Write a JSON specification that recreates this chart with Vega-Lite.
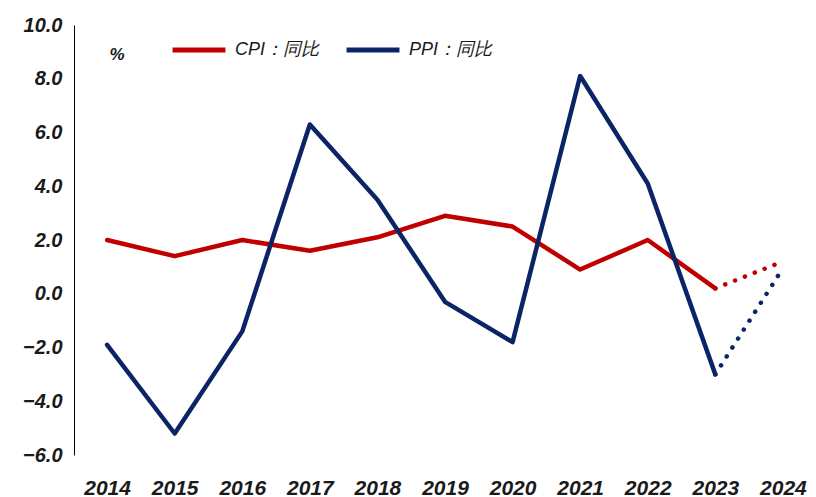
{
  "$schema": "https://vega.github.io/schema/vega-lite/v6.json",
  "width": 742,
  "height": 430,
  "autosize": {"type": "none"},
  "padding": {"left": 74, "top": 25, "right": 0, "bottom": 42},
  "background": "white",
  "config": {
    "view": {"stroke": null},
    "font": "Liberation Sans"
  },
  "datasets": {
    "actual": [
      {"year": "2014", "series": "CPI：同比", "value": 2.0},
      {"year": "2015", "series": "CPI：同比", "value": 1.4},
      {"year": "2016", "series": "CPI：同比", "value": 2.0},
      {"year": "2017", "series": "CPI：同比", "value": 1.6},
      {"year": "2018", "series": "CPI：同比", "value": 2.1},
      {"year": "2019", "series": "CPI：同比", "value": 2.9},
      {"year": "2020", "series": "CPI：同比", "value": 2.5},
      {"year": "2021", "series": "CPI：同比", "value": 0.9},
      {"year": "2022", "series": "CPI：同比", "value": 2.0},
      {"year": "2023", "series": "CPI：同比", "value": 0.2},
      {"year": "2014", "series": "PPI：同比", "value": -1.9},
      {"year": "2015", "series": "PPI：同比", "value": -5.2},
      {"year": "2016", "series": "PPI：同比", "value": -1.4},
      {"year": "2017", "series": "PPI：同比", "value": 6.3},
      {"year": "2018", "series": "PPI：同比", "value": 3.5},
      {"year": "2019", "series": "PPI：同比", "value": -0.3},
      {"year": "2020", "series": "PPI：同比", "value": -1.8},
      {"year": "2021", "series": "PPI：同比", "value": 8.1},
      {"year": "2022", "series": "PPI：同比", "value": 4.1},
      {"year": "2023", "series": "PPI：同比", "value": -3.0}
    ],
    "forecast": [
      {"year": "2023", "series": "CPI：同比", "value": 0.2},
      {"year": "2024", "series": "CPI：同比", "value": 1.2},
      {"year": "2023", "series": "PPI：同比", "value": -3.0},
      {"year": "2024", "series": "PPI：同比", "value": 0.95}
    ],
    "unit": [
      {"year": "2014", "value": 8.9, "label": "%"}
    ]
  },
  "encoding": {
    "x": {
      "field": "year",
      "type": "ordinal",
      "scale": {"type": "point", "padding": 0.49, "domain": ["2014","2015","2016","2017","2018","2019","2020","2021","2022","2023","2024"]},
      "axis": {
        "title": null,
        "domain": false,
        "ticks": false,
        "labelAngle": 0,
        "labelPadding": 22,
        "labelFont": "Liberation Sans",
        "labelFontSize": 21,
        "labelFontWeight": "bold",
        "labelFontStyle": "italic",
        "labelColor": "#1a1a1a"
      }
    },
    "y": {
      "field": "value",
      "type": "quantitative",
      "scale": {"domain": [-6, 10], "nice": false, "zero": false},
      "axis": {
        "title": null,
        "values": [-6, -4, -2, 0, 2, 4, 6, 8, 10],
        "format": ".1f",
        "grid": false,
        "ticks": false,
        "domain": true,
        "domainColor": "#000000",
        "domainWidth": 1,
        "labelPadding": 12,
        "labelFont": "Liberation Sans",
        "labelFontSize": 20,
        "labelFontWeight": "bold",
        "labelFontStyle": "italic",
        "labelColor": "#1a1a1a"
      }
    }
  },
  "layer": [
    {
      "data": {"values": [{"v": 0}]},
      "mark": {"type": "rule", "color": "#000000", "strokeWidth": 1},
      "encoding": {"y": {"datum": 0}, "x": null}
    },
    {
      "data": {"name": "unit"},
      "mark": {"type": "text", "font": "Liberation Sans", "fontSize": 17, "fontWeight": "bold", "fontStyle": "italic", "fill": "#1a1a1a", "dx": 10, "align": "center", "baseline": "middle"},
      "encoding": {"text": {"field": "label", "type": "nominal"}}
    },
    {
      "data": {"name": "actual"},
      "mark": {"type": "line", "strokeWidth": 4.5, "strokeCap": "round", "strokeJoin": "round"},
      "encoding": {
        "color": {
          "field": "series",
          "type": "nominal",
          "scale": {"domain": ["CPI：同比", "PPI：同比"], "range": ["#C00000", "#0B2465"]},
          "legend": {
            "title": null,
            "orient": "none",
            "legendX": 96,
            "legendY": -4,
            "padding": 0,
            "direction": "horizontal",
            "symbolType": "stroke",
            "symbolSize": 2800,
            "symbolStrokeWidth": 5,
            "labelFont": "Liberation Sans",
            "labelFontSize": 18,
            "labelFontStyle": "italic",
            "labelColor": "#1a1a1a",
            "labelOffset": 7,
            "columnPadding": 16
          }
        }
      }
    },
    {
      "data": {"name": "forecast"},
      "mark": {"type": "line", "strokeWidth": 4.5, "strokeCap": "round", "strokeDash": [0.1, 10.5]},
      "encoding": {
        "color": {"field": "series", "type": "nominal"}
      }
    }
  ]
}
